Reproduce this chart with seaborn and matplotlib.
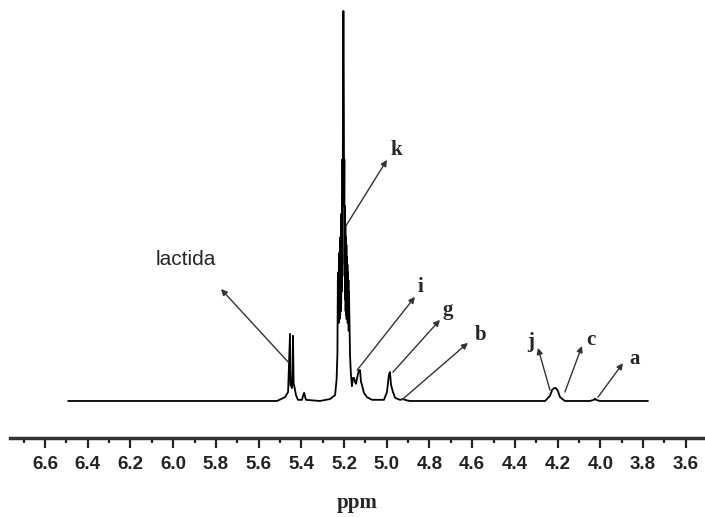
import numpy as np
import pandas as pd
import seaborn as sns
import matplotlib.pyplot as plt
from matplotlib.ticker import MultipleLocator, FormatStrFormatter

# 1H NMR trace (ppm, relative intensity, main peak = 100)
ppm = [6.492, 6.343, 6.108, 5.874, 5.640, 5.514, 5.476, 5.462,
       5.453, 5.451, 5.448, 5.444, 5.441, 5.439, 5.436, 5.434, 5.425, 5.416,
       5.397, 5.391, 5.387, 5.382, 5.378, 5.313, 5.266, 5.242,
       5.235, 5.231,
       5.2290, 5.2278, 5.2266, 5.2254, 5.2242, 5.2230, 5.2218, 5.2206,
       5.2194, 5.2182, 5.2170, 5.2158, 5.2146, 5.2134, 5.2122, 5.2110,
       5.2098, 5.2086, 5.2074, 5.2062, 5.2050, 5.2040, 5.2030, 5.2020,
       5.2010, 5.1998, 5.1986, 5.1974, 5.1962, 5.1950, 5.1938, 5.1926,
       5.1914, 5.1902, 5.1890, 5.1878, 5.1866, 5.1854, 5.1842, 5.1830,
       5.1818, 5.1806, 5.1794, 5.1782, 5.1770,
       5.172, 5.168, 5.163, 5.158, 5.153, 5.149, 5.144, 5.139,
       5.135, 5.130, 5.125, 5.121, 5.116, 5.107, 5.093, 5.069, 5.013,
       4.999, 4.990, 4.985, 4.980, 4.971, 4.961, 4.938, 4.924, 4.910,
       4.891, 4.704, 4.470, 4.259, 4.236, 4.226, 4.217, 4.208, 4.199,
       4.189, 4.166, 4.049, 4.030, 4.025, 4.020, 4.002, 3.777]
intensity = [0.0, 0.0, 0.0, 0.0, 0.0, 0.0, 1.0, 2.3,
             17.2, 4.0, 4.1, 3.3, 8.0, 16.7, 4.4, 4.1, 1.5, 0.3,
             0.3, 1.5, 2.1, 1.0, 0.3, 0.0, 0.5, 1.5,
             5.4, 12.0,
             31, 20, 33, 20, 35, 21, 38, 21,
             40, 22, 42, 23, 45, 25, 48, 28,
             52, 35, 62, 50, 78, 92, 100, 92,
             78, 50, 62, 32, 50, 26, 45, 23,
             42, 22, 40, 21, 37, 21, 35, 20,
             33, 20, 31, 18, 28,
             11.8, 7.0, 3.8, 5.9, 5.9, 5.0, 4.4, 5.9,
             6.9, 7.9, 7.9, 5.0, 4.1, 2.1, 1.0, 0.3, 0.3,
             2.3, 6.7, 7.4, 4.1, 2.3, 0.8, 0.3, 0.5, 0.2,
             0.0, 0.0, 0.0, 0.0, 1.3, 2.8, 3.3, 3.3, 2.6,
             1.0, 0.0, 0.0, 0.3, 0.6, 0.3, 0.0, 0.0]

# peak labels: (text, arrow tail on the trace, arrow head)
labels = ["lactida", "k", "i", "g", "b", "j", "c", "a"]
tails = [(5.462, 10.0), (5.191, 44.9), (5.139, 7.9), (4.971, 7.4),
         (4.929, 0.3), (4.236, 2.8), (4.166, 2.3), (4.011, 1.0)]
heads = [(5.776, 28.7), (4.999, 61.8), (4.868, 26.7), (4.751, 20.8),
         (4.620, 14.9), (4.292, 13.6), (4.086, 14.1), (3.894, 9.7)]
label_pos = [(5.940, 36.4), (4.957, 64.4), (4.844, 29.2), (4.713, 23.3),
             (4.559, 16.9), (4.325, 15.1), (4.044, 15.6), (3.842, 10.8)]

df = pd.DataFrame({"ppm": ppm, "intensity": intensity})

sns.set_style("white")
plt.rcParams["font.family"] = ["Liberation Sans", "DejaVu Sans"]

fig = plt.figure(figsize=(7.05, 5.17), dpi=100)
ax = fig.add_axes([10 / 705, (517 - 437.7) / 517, 695 / 705, 437.7 / 517])

sns.lineplot(data=df, x="ppm", y="intensity", sort=False, estimator=None,
             color="black", linewidth=1.3, ax=ax)

for name, tail, head, pos in zip(labels, tails, heads, label_pos):
    ax.annotate("", xy=head, xytext=tail,
                arrowprops=dict(arrowstyle="-|>", color="#333333", lw=1.0,
                                mutation_scale=9, shrinkA=0, shrinkB=0))
    if name == "lactida":
        ax.text(*pos, name, fontsize=15, ha="center", va="center",
                family=["Liberation Sans", "DejaVu Sans"])
    else:
        ax.text(*pos, name, fontsize=15, fontweight="bold", ha="center",
                va="center", family=["Liberation Serif", "DejaVu Serif"])

ax.set_xlim(6.764, 3.510)
ax.set_ylim(-9.41, 102.8)

for side in ["left", "right", "top"]:
    ax.spines[side].set_visible(False)
ax.spines["bottom"].set_linewidth(2.5)
ax.spines["bottom"].set_color("#333333")

ax.xaxis.set_major_locator(MultipleLocator(0.2))
ax.xaxis.set_minor_locator(MultipleLocator(0.1))
ax.xaxis.set_major_formatter(FormatStrFormatter("%.1f"))
ax.tick_params(axis="x", which="major", direction="out", length=7.5, width=1.6,
               color="#222222", pad=6, labelsize=13.5, bottom=True)
ax.tick_params(axis="x", which="minor", direction="out", length=3.8, width=1.6,
               color="#222222", bottom=True)
for lab in ax.get_xticklabels():
    lab.set_fontweight("bold")
    lab.set_color("#222222")
ax.set_yticks([])
ax.set_ylabel("")
ax.set_xlabel("ppm", fontsize=15, fontweight="bold", labelpad=14,
              family=["Liberation Serif", "DejaVu Serif"])

fig.savefig("out.png", dpi=100)
